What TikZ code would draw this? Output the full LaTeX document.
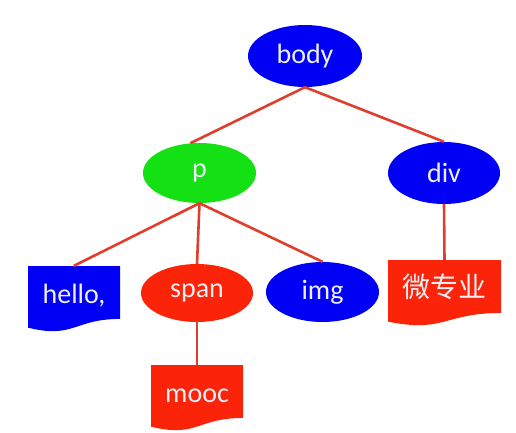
\documentclass[tikz,border=0pt]{standalone}
\usepackage{fontspec}
\setmainfont{Carlito}
\newfontfamily\cjk{Noto Sans CJK SC}
\usetikzlibrary{shapes.geometric,calc}
\definecolor{nblue}{RGB}{0,0,245}
\definecolor{ngreen}{RGB}{20,225,20}
\definecolor{nred}{RGB}{252,36,8}
\definecolor{lred}{RGB}{222,62,44}
\definecolor{ntext}{RGB}{238,238,245}
\tikzset{
  elnode/.style={ellipse, fill=#1, inner sep=0pt, text=ntext, font=\fontsize{28}{31}\selectfont},
  docnode/.style={rectangle, inner sep=0pt, text=ntext, font=\fontsize{28}{31}\selectfont,
    text height=18pt, text depth=9pt,
    path picture={\fill[#1]
      (path picture bounding box.north west) -- (path picture bounding box.north east)
      -- ($(path picture bounding box.north east)!0.802!(path picture bounding box.south east)$)
      .. controls ($(path picture bounding box.north)!0.802!(path picture bounding box.south)$)
      and ($(path picture bounding box.north)!1.107!(path picture bounding box.south)$)
      .. ($(path picture bounding box.north west)!0.934!(path picture bounding box.south west)$)
      -- cycle;}},
  link/.style={draw=lred, line width=2.6pt}
}
\begin{document}
\begin{tikzpicture}[x=1pt,y=-1pt]
\useasboundingbox (0,0) rectangle (516,433);
\node[elnode=nblue, minimum width=114pt, minimum height=62pt] (body) at (305,56) {body};
\node[elnode=ngreen, minimum width=113pt, minimum height=60pt] (p) at (199.5,173) {p};
\node[elnode=nblue, minimum width=112pt, minimum height=62pt] (div) at (444,173) {div};
\node[elnode=nred, minimum width=112pt, minimum height=58pt] (span) at (197,293) {span};
\node[elnode=nblue, minimum width=113pt, minimum height=60pt] (img) at (322.5,292) {img};
\node[docnode=nblue, minimum width=92pt, minimum height=66pt] (hello) at (74,299) {hello,};
\node[docnode=nred, minimum width=92pt, minimum height=66pt] (mooc) at (197,398) {mooc};
\node[docnode=nred, minimum width=113pt, minimum height=66pt] (wzy) at (444.5,293) {\cjk 微专业};
\draw[link] (body.south) -- (p.107);
\draw[link] (body.south) -- (div.north);
\draw[link] (p.south) -- (hello.north);
\draw[link] (p.south) -- (span.north);
\draw[link] (p.south) -- (img.north);
\draw[link] (div.south) -- (wzy.north);
\draw[link] (span.south) -- (mooc.north);
\end{tikzpicture}
\end{document}
